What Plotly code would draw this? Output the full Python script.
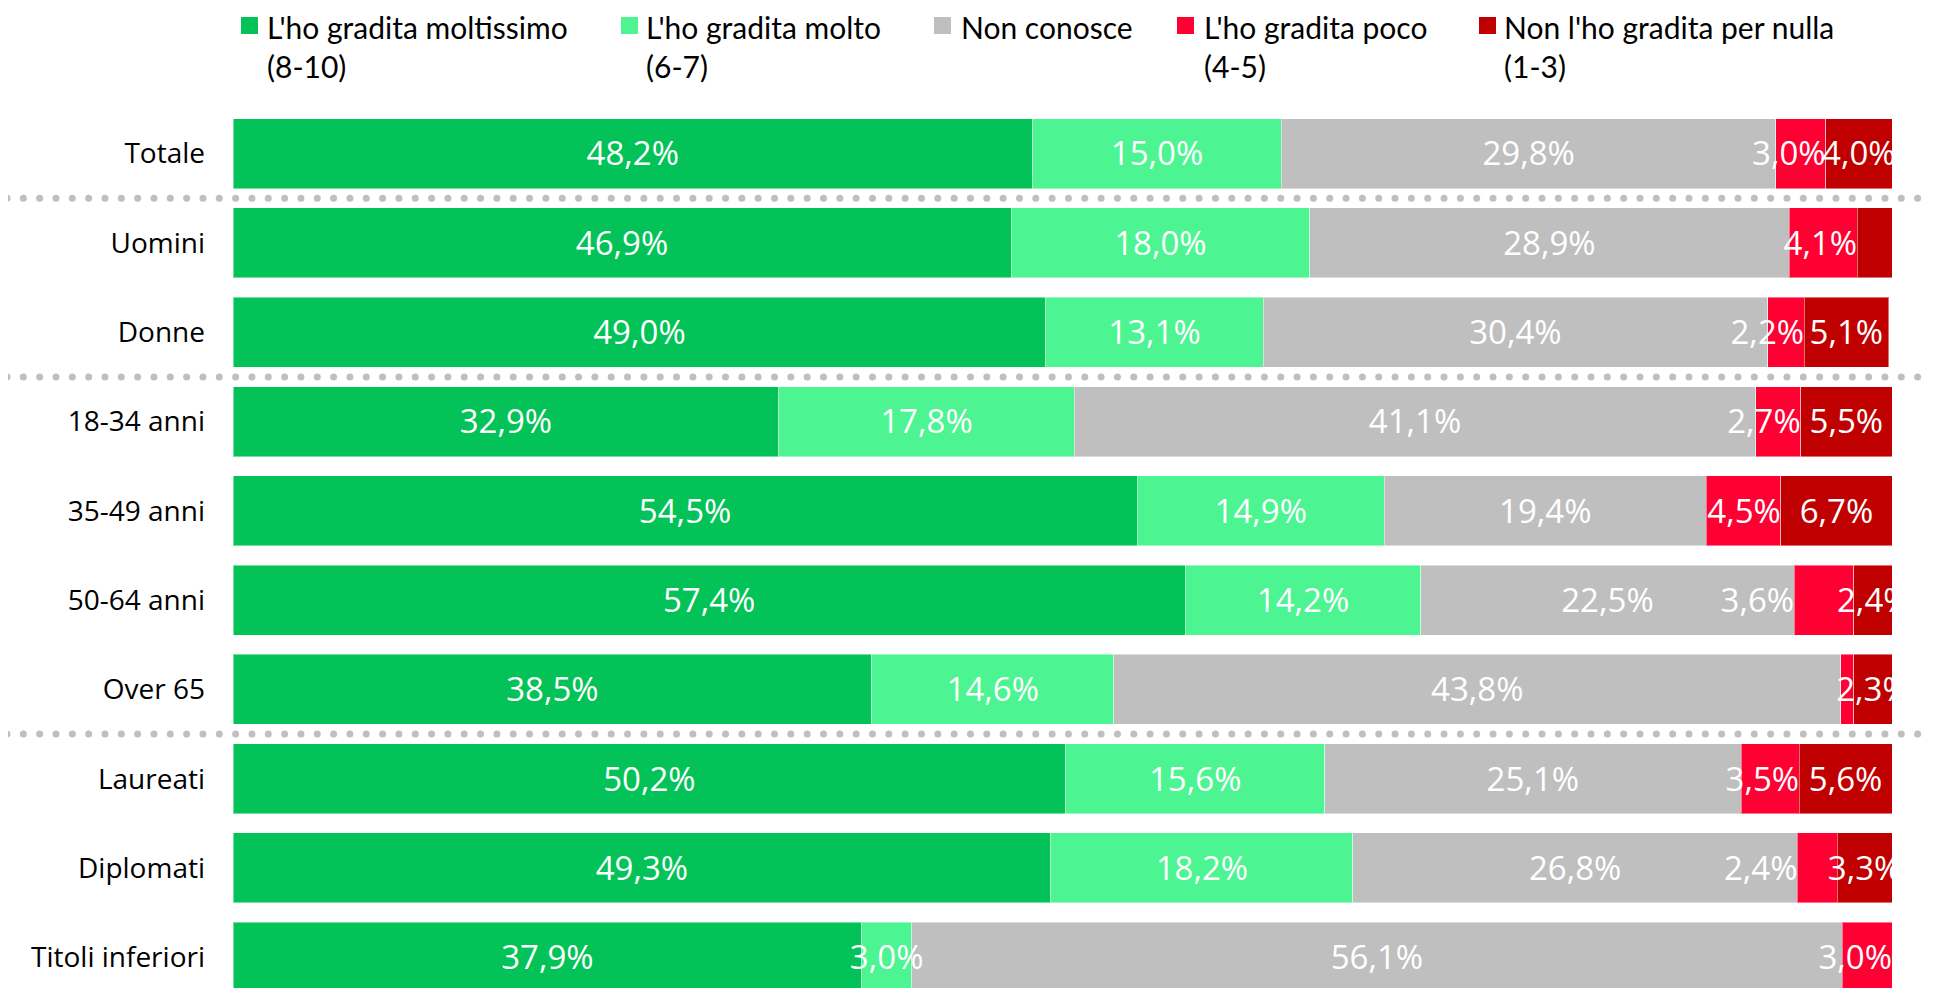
"""Gradimento per segmento: barre orizzontali impilate al 100%."""

import numpy as np
import plotly.graph_objects as go


CATEGORIE = [
    "Totale",
    "Uomini",
    "Donne",
    "18-34 anni",
    "35-49 anni",
    "50-64 anni",
    "Over 65",
    "Laureati",
    "Diplomati",
    "Titoli inferiori",
]

SERIE = [
    "L'ho gradita moltissimo<br>(8-10)",
    "L'ho gradita molto<br>(6-7)",
    "Non conosce",
    "L'ho gradita poco<br>(4-5)",
    "Non l'ho gradita per nulla<br>(1-3)",
]

MOLTISSIMO = [48.2, 46.9, 49.0, 32.9, 54.5, 57.4, 38.5, 50.2, 49.3, 37.9]
MOLTO = [15.0, 18.0, 13.1, 17.8, 14.9, 14.2, 14.6, 15.6, 18.2, 3.0]
NON_CONOSCE = [29.8, 28.9, 30.4, 41.1, 19.4, 22.5, 43.8, 25.1, 26.8, 56.1]
POCO = [3.0, 4.1, 2.2, 2.7, 4.5, 3.6, 0.8, 3.5, 2.4, 3.0]
PER_NULLA = [4.0, 2.1, 5.1, 5.5, 6.7, 2.4, 2.3, 5.6, 3.3, 0.0]

# etichette mostrate nel grafico originale (None = nessuna etichetta)
ETICHETTE_POCO = [3.0, 4.1, 2.2, 2.7, 4.5, 3.6, None, 3.5, 2.4, 3.0]
ETICHETTE_PER_NULLA = [4.0, None, 5.1, 5.5, 6.7, 2.4, 2.3, 5.6, 3.3, None]
# nell'originale le etichette "poco" sono spostate a sinistra del segmento:
# "fine" = allineata alla fine del segmento, "inizio" = all'inizio
ANCORA_POCO = ["fine", "fine", "fine", "fine", "fine", "inizio", "fine", "fine", "inizio", "fine"]

COLORI = ["#03C358", "#4CF592", "#BFBFBF", "#FF0033", "#C00000"]

# separatori tra i gruppi (tra un indice di categoria e il successivo)
SEPARATORI = [0.5, 2.5, 6.5]

# coordinate di pagina: il body html aggiunge 8px di margine
BODY = 8
W, H = 1933 - BODY, 988 - BODY
M_T = 101
PH = H - M_T
BARRE_X0, BARRE_X1 = 233, 1892  # bordo sinistro/destro delle barre (pagina)


def px_x(px):
    """Pixel di pagina -> coordinata paper orizzontale."""
    return (px - BODY) / W


def px_y(py):
    """Pixel di pagina -> coordinata paper verticale."""
    return 1 - (py - BODY - M_T) / PH


def fmt(v):
    return "" if v is None else f"{v:.1f}%".replace(".", ",")


valori = [MOLTISSIMO, MOLTO, NON_CONOSCE, POCO, PER_NULLA]
etichette = [MOLTISSIMO, MOLTO, NON_CONOSCE, ETICHETTE_POCO, ETICHETTE_PER_NULLA]
posizioni = list(range(len(CATEGORIE)))

fig = go.Figure()
for nome, vals, colore in zip(SERIE, valori, COLORI):
    fig.add_trace(
        go.Bar(
            y=posizioni,
            x=vals,
            orientation="h",
            name=nome,
            marker=dict(color=colore, line=dict(color="rgba(255,255,255,0.45)", width=1)),
            hoverinfo="skip",
            showlegend=False,
        )
    )

# etichette dei valori, calcolate dalle somme cumulate dei segmenti
fine = np.cumsum(np.array(valori), axis=0)
inizio = fine - np.array(valori)
font_val = dict(family="Open Sans", size=33, color="white")
y_testo = [p + 0.04 for p in posizioni]  # piccola correzione della linea di base
for k, labs in enumerate(etichette):
    if k == 3:
        xs = [fine[k][i] if a == "fine" else inizio[k][i] for i, a in enumerate(ANCORA_POCO)]
        pos = "middle left"
    else:
        xs = (inizio[k] + fine[k]) / 2
        pos = "middle center"
    fig.add_trace(
        go.Scatter(
            x=xs,
            y=y_testo,
            mode="text",
            text=[fmt(v) for v in labs],
            textposition=pos,
            textfont=font_val,
            cliponaxis=True,
            hoverinfo="skip",
            showlegend=False,
        )
    )

# separatori punteggiati su un asse x ausiliario che copre tutta la larghezza
passo = 16.33
n_punti = int((1933 - 7) / passo) + 1
xs_punti = [7 - BODY + i * passo for i in range(n_punti)]
for sep in SEPARATORI:
    fig.add_trace(
        go.Scatter(
            x=xs_punti,
            y=[sep] * n_punti,
            xaxis="x2",
            yaxis="y",
            mode="markers",
            marker=dict(color="#BFBFBF", size=7, line=dict(width=0)),
            hoverinfo="skip",
            showlegend=False,
        )
    )

# legenda disegnata a mano per riprodurre la spaziatura originale
LEGENDA_X = [241, 621, 934, 1177, 1479]
TESTO_X = [268, 647, 962, 1205, 1505]
for nome, colore, lx, tx in zip(SERIE, COLORI, LEGENDA_X, TESTO_X):
    fig.add_shape(
        type="rect",
        xref="paper",
        yref="paper",
        x0=px_x(lx),
        x1=px_x(lx + 17),
        y0=px_y(17),
        y1=px_y(34),
        fillcolor=colore,
        line=dict(width=0),
    )
    fig.add_annotation(
        xref="paper",
        yref="paper",
        x=px_x(tx - 2),
        y=px_y(BODY),
        xanchor="left",
        yanchor="top",
        align="left",
        borderpad=0,
        text=nome,
        showarrow=False,
        font=dict(family="Lato", size=30, color="black"),
    )

fig.update_layout(
    width=W,
    height=H,
    barmode="stack",
    bargap=0.216,
    # sfondo trasparente: il sottografico dei puntini non deve coprire le barre
    plot_bgcolor="rgba(0,0,0,0)",
    paper_bgcolor="white",
    margin=dict(l=0, r=0, t=M_T, b=0),
    xaxis=dict(
        domain=[px_x(BARRE_X0), px_x(BARRE_X1)],
        range=[0, 100],
        visible=False,
        fixedrange=True,
    ),
    xaxis2=dict(
        domain=[0, 1],
        range=[0, W],
        anchor="y",
        visible=False,
        fixedrange=True,
    ),
    yaxis=dict(
        anchor="x",
        range=[9.344, -0.5],
        tickmode="array",
        tickvals=posizioni,
        ticktext=CATEGORIE,
        ticks="",
        showgrid=False,
        zeroline=False,
        showline=False,
        ticklabelstandoff=27,
        tickfont=dict(family="Open Sans", size=28, color="black"),
    ),
)

fig.write_html("out.html")
